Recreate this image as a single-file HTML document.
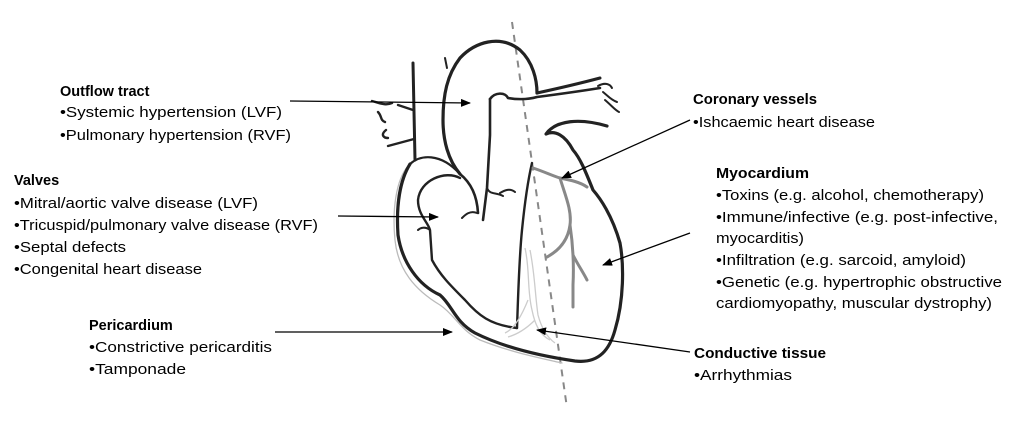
<!DOCTYPE html>
<html><head><meta charset="utf-8"><style>
html,body{margin:0;padding:0;background:#fff;}
svg{display:block}
text{font-family:"Liberation Sans",Arial,sans-serif;font-size:14.5px;fill:#000}
.b{font-weight:bold}
</style></head><body>
<svg width="1024" height="427" viewBox="0 0 1024 427" xmlns="http://www.w3.org/2000/svg">
<defs><marker id="a" markerWidth="10" markerHeight="8" refX="9" refY="4" orient="auto" markerUnits="userSpaceOnUse" viewBox="0 0 10 8"><path d="M0,0 L10,4 L0,8 Z" fill="#000"/></marker></defs>
<!-- dashed axis -->
<line x1="512" y1="22" x2="567" y2="408" stroke="#888" stroke-width="2" stroke-dasharray="7,6"/>
<g fill="none" stroke="#222" stroke-linecap="round" stroke-linejoin="round">
<!-- pericardium grey -->
<path d="M408,166 C396,180 392,210 395,240 C398,270 415,290 440,305 C455,315 460,330 480,340 C510,352 540,358 562,363" stroke="#bbb" stroke-width="1.3"/>
<!-- outer heart -->
<path d="M410,164 C400,180 396,205 398,235 C402,262 418,285 440,295 C452,305 455,322 475,333 C505,348 540,356 575,361 C600,364 610,348 615,330 C624,300 624,265 620,243 C612,215 600,198 593,190 C585,170 580,158 573,150 C565,135 555,130 546,134 C556,120 580,118 607,126" stroke-width="3.2"/>
<!-- RA top curve -->
<path d="M410,164 C420,155 440,152 460,174" stroke-width="2.2"/>
<!-- SVC -->
<path d="M413,63 L415,160" stroke-width="3"/>
<!-- aorta outer -->
<path d="M460,174 C448,160 443,140 443,120 C443,95 447,75 460,58 C475,42 500,34 520,50 C533,62 537,80 537,93" stroke-width="3.2"/>
<path d="M447,68 L445,58" stroke-width="2"/>
<!-- pulmonary artery -->
<path d="M537,93 C560,88 585,82 600,78" stroke-width="3"/>
<path d="M490,99 C495,92 505,92 508,98 C520,100 530,99 537,97 C560,94 575,92 600,88" stroke-width="2.6"/>
<!-- inner aorta -->
<path d="M490,99 L490,135 L487,188 L483,220" stroke-width="2.6"/>
<path d="M460,174 C470,182 477,195 478,213" stroke-width="2.6"/>
<!-- valves cusps -->
<path d="M477,213 C470,210 465,215 462,218 M487,188 C490,195 495,192 503,196 M515,192 C510,188 505,190 500,193 M430,230 C425,226 420,228 418,230" stroke-width="2"/>
<!-- RA inner -->
<path d="M460,178 C445,170 420,180 418,200 C418,215 428,222 430,230 L432,260 C440,275 450,285 465,300 C478,315 490,325 517,328" stroke-width="2.4"/>
<!-- septum -->
<path d="M517,328 C518,300 519,260 522,230 C525,200 528,180 532,163" stroke-width="2.4"/>
<!-- pulmonary veins small -->
<path d="M372,101 C380,103 385,106 392,103 M378,112 C382,116 380,120 385,122 M386,130 C380,135 384,138 388,138 M388,146 L414,139 M398,105 L413,110" stroke-width="2.4"/>
<path d="M598,86 C605,82 610,84 612,88 M603,92 C608,96 611,100 617,102 M605,100 C612,106 615,110 619,112" stroke-width="2"/>
</g>
<!-- coronary grey -->
<g fill="none" stroke="#888" stroke-width="3" stroke-linecap="round">
<path d="M533,168 C545,172 553,176 560,178 C570,180 580,182 587,187"/>
<path d="M560,178 C565,195 572,210 570,225 C568,240 560,250 547,257"/>
<path d="M570,225 C573,245 574,265 573,285 L573,307"/>
<path d="M573,255 C578,265 583,272 587,280"/>
</g>
<!-- conductive tissue light -->
<g fill="none" stroke="#ccc" stroke-width="1.3">
<path d="M525,248 C530,270 527,290 532,310 C535,325 540,335 550,340"/>
<path d="M530,250 C535,275 535,295 538,315 C542,330 548,338 555,343"/>
<path d="M528,300 C520,320 512,330 505,333 M535,320 C525,330 515,335 508,337"/>
</g>
<!-- arrows -->
<g stroke="#000" stroke-width="1.3" marker-end="url(#a)">
<line x1="290" y1="101" x2="470" y2="103"/>
<line x1="338" y1="216" x2="438" y2="217"/>
<line x1="275" y1="332" x2="452" y2="332"/>
<line x1="690" y1="120" x2="562" y2="178"/>
<line x1="690" y1="233" x2="603" y2="265"/>
<line x1="690" y1="352" x2="537" y2="330"/>
</g>
<!-- text -->
<text x="60" y="96" class="b">Outflow tract</text>
<text x="60" y="117" textLength="222" lengthAdjust="spacingAndGlyphs">•Systemic hypertension (LVF)</text>
<text x="60" y="140" textLength="231" lengthAdjust="spacingAndGlyphs">•Pulmonary hypertension (RVF)</text>
<text x="14" y="185" class="b">Valves</text>
<text x="14" y="208" textLength="244" lengthAdjust="spacingAndGlyphs">•Mitral/aortic valve disease (LVF)</text>
<text x="14" y="230" textLength="304" lengthAdjust="spacingAndGlyphs">•Tricuspid/pulmonary valve disease (RVF)</text>
<text x="14" y="252" textLength="112" lengthAdjust="spacingAndGlyphs">•Septal defects</text>
<text x="14" y="274" textLength="188" lengthAdjust="spacingAndGlyphs">•Congenital heart disease</text>
<text x="89" y="330" class="b">Pericardium</text>
<text x="89" y="352" textLength="183" lengthAdjust="spacingAndGlyphs">•Constrictive pericarditis</text>
<text x="89" y="374" textLength="97" lengthAdjust="spacingAndGlyphs">•Tamponade</text>
<text x="693" y="104" class="b" textLength="124" lengthAdjust="spacingAndGlyphs">Coronary vessels</text>
<text x="693" y="127" textLength="182" lengthAdjust="spacingAndGlyphs">•Ishcaemic heart disease</text>
<text x="716" y="178" class="b" textLength="93" lengthAdjust="spacingAndGlyphs">Myocardium</text>
<text x="716" y="200" textLength="268" lengthAdjust="spacingAndGlyphs">•Toxins (e.g. alcohol, chemotherapy)</text>
<text x="716" y="222" textLength="282" lengthAdjust="spacingAndGlyphs">•Immune/infective (e.g. post-infective,</text>
<text x="716" y="243" textLength="88" lengthAdjust="spacingAndGlyphs">myocarditis)</text>
<text x="716" y="265" textLength="250" lengthAdjust="spacingAndGlyphs">•Infiltration (e.g. sarcoid, amyloid)</text>
<text x="716" y="287" textLength="286" lengthAdjust="spacingAndGlyphs">•Genetic (e.g. hypertrophic obstructive</text>
<text x="716" y="308" textLength="276" lengthAdjust="spacingAndGlyphs">cardiomyopathy, muscular dystrophy)</text>
<text x="694" y="358" class="b" textLength="132" lengthAdjust="spacingAndGlyphs">Conductive tissue</text>
<text x="694" y="380" textLength="98" lengthAdjust="spacingAndGlyphs">•Arrhythmias</text>
</svg>
</body></html>
